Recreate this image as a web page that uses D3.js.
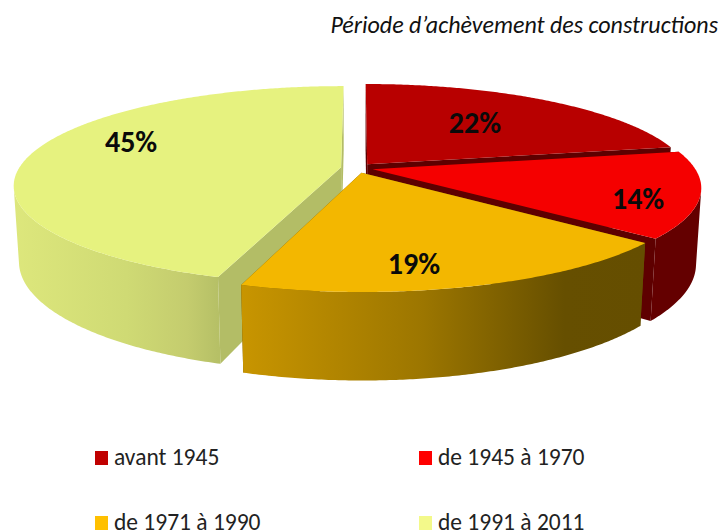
<!DOCTYPE html>
<html><head><meta charset="utf-8">
<script src="https://cdn.jsdelivr.net/npm/d3@7"></script>
<style>html,body{margin:0;padding:0;background:#fff;overflow:hidden}svg{display:block}</style>
</head><body><svg id="c" width="722" height="531"></svg>
<script>
const categories = ["avant 1945","de 1945 à 1970","de 1971 à 1990","de 1991 à 2011"];
const values = [22,14,19,45];
const labels = ["22%","14%","19%","45%"];
const title = "Période d’achèvement des constructions";
const topColors = ["#b80000","#f50000","#f3b700","#e6f27f"];
const legendColors = ["#c00000","#ff0000","#ffc000","#f3f98a"];
const cutColors = ["#5e0000","#5e0000","#654e00","#b3bd66"];
const wallStops = [
  [[0,"#5e0000"],[1,"#5e0000"]],
  [[0,"#640000"],[1,"#640000"]],
  [[0,"#c89500"],[0.45,"#9c7600"],[0.8,"#664f00"],[1,"#654e00"]],
  [[0,"#dde77c"],[0.55,"#cfda74"],[0.85,"#c4cc6e"],[1,"#b6c066"]]
];
const labelU = [0.40,0.825,0.15,-0.739];
const labelV = [-0.512,0.305,0.847,-0.296];
const paintOrder = [0,1,3,2];

const cx=357, cy=168, rx=322, ry=96, k=0.18, depth=75, shrink=0.015, explode=0.05;
function project(u,v,h){
  const w=1-k*v+shrink*h;
  return [cx+rx*u/w, cy+(ry*v+depth*h)/w];
}
const svg=d3.select("#c");
const defs=svg.append("defs");
const line=d3.line();
const arcs=d3.pie().sort(null).value(d=>d)(values);

function facesViewer(a,b){
  return d3.polygonArea([project(a[0],a[1],0),project(b[0],b[1],0),project(b[0],b[1],1),project(a[0],a[1],1)])>0;
}
const slices=arcs.map((a,i)=>{
  const mid=(a.startAngle+a.endAngle)/2;
  const u0=explode*Math.sin(mid), v0=-explode*Math.cos(mid);
  const n=Math.ceil((a.endAngle-a.startAngle)/(Math.PI/360));
  const ang=d3.range(n+1).map(j=>a.startAngle+(a.endAngle-a.startAngle)*j/n);
  const rim=ang.map(t=>[u0+Math.sin(t),v0-Math.cos(t)]);
  // keep only the part of the rim whose outer wall faces the viewer
  const front=rim.filter((p,j)=>j<n ? facesViewer(p,rim[j+1]) : facesViewer(rim[j-1],p));
  return {i,u0,v0,rim,front};
});

slices.forEach(s=>{
  const xs=(s.front.length?s.front:s.rim).map(p=>project(p[0],p[1],0)[0]);
  const g=defs.append("linearGradient").attr("id","wall"+s.i)
    .attr("gradientUnits","userSpaceOnUse")
    .attr("x1",d3.min(xs)).attr("x2",d3.max(xs)).attr("y1",0).attr("y2",0);
  wallStops[s.i].forEach(st=>g.append("stop").attr("offset",st[0]).attr("stop-color",st[1]));
});

paintOrder.forEach(i=>{
  const s=slices[i], g=svg.append("g");
  const first=s.rim[0], last=s.rim[s.rim.length-1];
  [first,last].forEach(p=>{
    g.append("path").attr("fill",cutColors[i]).attr("d",line([
      project(s.u0,s.v0,0),project(p[0],p[1],0),project(p[0],p[1],1),project(s.u0,s.v0,1)
    ])+"Z");
  });
  if(s.front.length){
    const wall=s.front.map(p=>project(p[0],p[1],0)).concat(s.front.slice().reverse().map(p=>project(p[0],p[1],1)));
    g.append("path").attr("fill","url(#wall"+i+")").attr("d",line(wall)+"Z");
  }
  const top=[project(s.u0,s.v0,0)].concat(s.rim.map(p=>project(p[0],p[1],0)));
  g.append("path").attr("fill",topColors[i]).attr("d",line(top)+"Z");
});

const font="Carlito, Calibri, Lato, sans-serif";
svg.append("g").selectAll("text").data(labels).join("text")
  .attr("x",(d,i)=>project(labelU[i],labelV[i],0)[0])
  .attr("y",(d,i)=>project(labelU[i],labelV[i],0)[1])
  .attr("text-anchor","middle").attr("dominant-baseline","central")
  .attr("font-family",font).attr("font-weight",700).attr("font-size",30).attr("fill","#0a0a0a")
  .text(d=>d);

svg.append("text").attr("x",718).attr("y",33).attr("text-anchor","end")
  .attr("font-family",font).attr("font-style","italic").attr("font-size",24).attr("fill","#111")
  .text(title);

const legX=d3.scaleOrdinal().domain([0,1]).range([95,419]);
const legY=d3.scaleOrdinal().domain([0,1]).range([451,516]);
const leg=svg.append("g").selectAll("g").data(categories).join("g")
  .attr("transform",(d,i)=>`translate(${legX(i%2)},${legY(Math.floor(i/2))})`);
leg.append("rect").attr("width",13).attr("height",14).attr("fill",(d,i)=>legendColors[i]);
leg.append("text").attr("x",19).attr("y",14)
  .attr("font-family",font).attr("font-size",23.5).attr("fill","#222").text(d=>d);
</script></body></html>
